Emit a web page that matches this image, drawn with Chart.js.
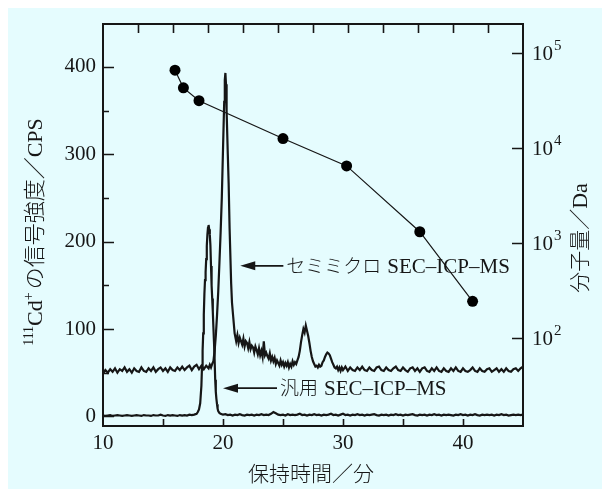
<!DOCTYPE html>
<html><head><meta charset="utf-8">
<script src="https://cdn.jsdelivr.net/npm/chart.js@4.4.1/dist/chart.umd.min.js"></script>
<style>html,body{margin:0;padding:0;background:#fff;}canvas{display:block;}</style>
</head><body>
<canvas id="c" width="602" height="492"></canvas>
<script>
// ---------- data ----------
const bottomTicks = [10, 20, 30, 40];
const bottomTickMarks = [10, 15, 20, 25, 30, 35, 40, 45];
const leftTicks = [0, 100, 200, 300, 400];
const leftTickMarks = [0, 50, 100, 150, 200, 250, 300, 350, 400];
const rightTicks = [100, 1000, 10000, 100000];
const topTickMarks = [0, 1, 2, 3, 4, 5, 6, 7, 8, 9, 10, 11, 12];

// molecular weight calibration (right log axis)
const mwTime = [16.0, 16.7, 18.0, 25.0, 30.3, 36.4, 40.8];
const mwValue = [66000, 43000, 31500, 12600, 6500, 1320, 245];

// semi-micro SEC-ICP-MS trace
const semiTime = [
10.0,10.2,10.4,10.6,10.8,11.0,11.2,11.4,11.6,11.8,
12.0,12.2,12.4,12.6,12.8,13.0,13.2,13.4,13.6,13.8,
14.0,14.2,14.4,14.6,14.8,15.0,15.2,15.4,15.6,15.8,
16.0,16.2,16.4,16.6,16.8,17.0,17.2,17.4,17.6,17.8,
18.0,18.2,18.4,18.6,18.8,18.9,19.0,19.1,19.2,19.3,
19.4,19.5,19.6,19.7,19.8,19.9,20.0,20.1,20.15,20.2,
20.25,20.3,20.4,20.47,20.55,20.68,20.75,20.85,20.97,21.1,
21.2,21.3,21.4,21.5,21.6,21.7,21.8,21.9,22.0,22.1,
22.2,22.3,22.4,22.5,22.6,22.7,22.8,22.9,23.0,23.1,
23.2,23.3,23.4,23.5,23.6,23.7,23.8,23.9,24.0,24.1,
24.2,24.3,24.4,24.5,24.6,24.7,24.8,24.9,25.0,25.1,
25.2,25.3,25.4,25.5,25.6,25.7,25.8,25.9,26.0,26.1,
26.2,26.3,26.4,26.5,26.6,26.7,26.8,26.9,27.0,27.1,
27.2,27.3,27.4,27.5,27.6,27.7,27.8,27.9,28.0,28.1,
28.2,28.3,28.4,28.5,28.6,28.7,28.8,28.9,29.0,29.1,
29.2,29.3,29.4,29.5,29.6,29.7,29.8,29.9,30.0,30.2,
30.4,30.6,30.8,31.0,31.2,31.4,31.6,31.8,32.0,32.2,
32.4,32.6,32.8,33.0,33.2,33.4,33.6,33.8,34.0,34.2,
34.4,34.6,34.8,35.0,35.2,35.4,35.6,35.8,36.0,36.2,
36.4,36.6,36.8,37.0,37.2,37.4,37.6,37.8,38.0,38.2,
38.4,38.6,38.8,39.0,39.2,39.4,39.6,39.8,40.0,40.2,
40.4,40.6,40.8,41.0,41.2,41.4,41.6,41.8,42.0,42.2,
42.4,42.6,42.8,43.0,43.2,43.4,43.6,43.8,44.0,44.2,
44.4,44.6,44.8,45.0
];
const semiSignal = [
49,53,50,54,51,55,50,54,52,56,
51,54,50,55,52,51,56,52,51,55,
52,56,51,54,56,52,55,51,56,53,
52,56,53,57,53,56,58,53,57,59,
54,58,54,58,55,59,56,60,63,75,
92,115,142,175,210,250,305,360,385,393,
380,350,300,267,215,152,130,114,95,86,
93,84,90,86,82,89,80,86,84,78,
85,77,81,79,73,80,76,71,78,70,
75,68,86,70,73,69,66,72,64,68,
63,67,60,64,61,58,64,59,62,57,
61,58,62,56,60,57,63,59,62,60,
64,68,75,85,93,100,96,104,98,92,
84,75,68,63,60,57,58,56,59,57,
58,62,64,68,71,73,72,70,66,62,
59,56,55,57,53,56,52,56,53,57,
52,56,53,52,56,53,57,53,52,56,
53,52,56,57,53,52,56,53,52,55,
57,53,52,56,53,51,55,56,52,55,
51,55,56,52,51,55,52,56,52,51,
55,52,51,55,52,56,52,51,55,52,
51,53,56,52,51,55,52,51,54,55,
51,53,55,51,54,51,55,52,51,54,
55,52,55,57
];

// conventional SEC-ICP-MS trace
const genTime = [
10.0,10.2,10.4,10.6,10.8,11.0,11.2,11.4,11.6,11.8,
12.0,12.2,12.4,12.6,12.8,13.0,13.2,13.4,13.6,13.8,
14.0,14.2,14.4,14.6,14.8,15.0,15.2,15.4,15.6,15.8,
16.0,16.2,16.4,16.6,16.8,17.0,17.2,17.4,
17.6,17.8,17.9,18.0,18.1,18.2,18.25,18.3,18.35,18.4,
18.45,18.5,18.55,18.6,18.65,18.7,18.75,18.8,18.85,18.9,
18.95,19.0,19.05,19.1,19.15,19.2,19.25,19.3,19.35,19.4,
19.45,19.5,19.55,19.6,19.7,19.8,19.9,20.0,
20.2,20.4,20.6,20.8,21.0,21.2,21.4,21.6,21.8,22.0,
22.2,22.4,22.6,22.8,23.0,23.2,23.4,23.6,23.8,24.0,
24.2,24.4,24.6,24.8,25.0,25.2,25.4,25.6,25.8,26.0,
26.2,26.4,26.6,26.8,27.0,27.2,27.4,27.6,27.8,28.0,
28.2,28.4,28.6,28.8,29.0,29.2,29.4,29.6,29.8,30.0,
30.2,30.4,30.6,30.8,31.0,31.2,31.4,31.6,31.8,32.0,
32.2,32.4,32.6,32.8,33.0,33.2,33.4,33.6,33.8,34.0,
34.2,34.4,34.6,34.8,35.0,35.2,35.4,35.6,35.8,36.0,
36.2,36.4,36.6,36.8,37.0,37.2,37.4,37.6,37.8,38.0,
38.2,38.4,38.6,38.8,39.0,39.2,39.4,39.6,39.8,40.0,
40.2,40.4,40.6,40.8,41.0,41.2,41.4,41.6,41.8,42.0,
42.2,42.4,42.6,42.8,43.0,43.2,43.4,43.6,43.8,44.0,
44.2,44.4,44.6,44.8,45.0
];
const genSignal = [
1,0.5,1,1.5,0.5,1,1.5,1,0.5,1,
1.5,1,0.5,1,1.5,1,0.5,1.5,1,1,
0.5,1.5,1,1,2,1,0.5,1.5,1,1.5,
1,0.5,1.5,1,1.5,1,2,1.5,
2,3,5,8,15,35,57,75,95,116,
140,156,165,180,195,208,216,219,214,208,
196,172,150,135,120,102,85,66,42,28,
20,14,9,6,4,3,2.5,2,
2.5,1.5,2,1,2,1.5,2.5,1.5,1,2,
1.5,2,1,2,1.5,2.5,1.5,2,1.5,3,
5,3.5,2,1.5,2,1,2.5,1.5,2,1.5,
2,3,1.5,2,1,2,1.5,2.5,1.5,2,
1,2,1.5,2,3,1.5,2,1,2,3,
1.5,2,1,2,1.5,2.5,1.5,2,1,2,
1.5,2,2.5,1.5,1,2,1.5,2,1,2,
1.5,2.5,1.5,2,1,2,1.5,2,2.5,1.5,
1,2,1.5,2,1,2,1.5,2.5,1.5,2,
1,2,1.5,2,1.5,1,2,1.5,2.5,1.5,
2,1,2,1.5,2.5,1.5,1,2,1.5,2,
1.5,2,1,2,1.5,2.5,1.5,2,1,1.5,
2,1.5,2,1.5,2
];

// ---------- styling ----------
const SERIF = '"Liberation Serif","DejaVu Serif",serif';
const CJK = '"Noto Sans CJK JP","Noto Sans CJK SC",sans-serif';
const INK = '#161616';

const annotations = [
  {tipX: 21.44, tailX: 25.03, y: 172.3, jp: 'セミミクロ', en: 'SEC–ICP–MS'},
  {tipX: 20.0, tailX: 24.5, y: 32.3, jp: '汎用', en: 'SEC–ICP–MS'}
];

function pts(t, v) {
  const n = Math.min(t.length, v.length), a = [];
  for (let i = 0; i < n; i++) a.push({x: t[i], y: v[i]});
  return a;
}
const asTicks = arr => arr.map(v => ({value: v}));

function drawRuns(ctx, runs, baseline) {
  let w = 0;
  runs.forEach(r => { ctx.font = (r.w || 'normal') + ' ' + r.s + 'px ' + r.f; r._w = ctx.measureText(r.t).width; w += r._w + (r.gap || 0); });
  let x = -w / 2;
  runs.forEach(r => {
    ctx.font = (r.w || 'normal') + ' ' + r.s + 'px ' + r.f;
    ctx.fillText(r.t, x, baseline + (r.dy || 0));
    x += r._w + (r.gap || 0);
  });
}

const deco = {
  id: 'deco',
  beforeDraw(chart) {
    const ctx = chart.ctx;
    ctx.save();
    ctx.fillStyle = '#ffffff'; ctx.fillRect(0, 0, chart.width, chart.height);
    ctx.fillStyle = '#e5fcfe'; ctx.fillRect(8, 8, chart.width - 8, chart.height - 11);
    ctx.restore();
  },
  afterDatasetsDraw(chart) {
    const ctx = chart.ctx, a = chart.chartArea, s = chart.scales;
    ctx.save();
    ctx.strokeStyle = INK; ctx.fillStyle = INK;
    ctx.lineWidth = 2;
    ctx.strokeRect(a.left, a.top, a.right - a.left, a.bottom - a.top);
    ctx.lineWidth = 1.6;
    ctx.beginPath();
    s.y.ticks.forEach(t => {
      const py = Math.round(s.y.getPixelForValue(t.value)) + 0.5;
      const len = leftTicks.includes(t.value) ? 11 : 6;
      ctx.moveTo(a.left, py); ctx.lineTo(a.left + len, py);
    });
    s.x.ticks.forEach(t => {
      if (t.value <= 10 || t.value >= 45) return;
      const px = Math.round(s.x.getPixelForValue(t.value)) + 0.5;
      ctx.moveTo(px, a.bottom); ctx.lineTo(px, a.bottom - 7);
    });
    s.xTop.ticks.forEach(t => {
      if (t.value <= 0 || t.value >= 12) return;
      const px = Math.round(s.xTop.getPixelForValue(t.value)) + 0.5;
      ctx.moveTo(px, a.top); ctx.lineTo(px, a.top + 9);
    });
    rightTicks.forEach(v => {
      const py = Math.round(s.y2.getPixelForValue(v)) + 0.5;
      ctx.moveTo(a.right, py); ctx.lineTo(a.right - 11, py);
    });
    ctx.stroke();

    ctx.textBaseline = 'alphabetic';
    ctx.textAlign = 'left';
    rightTicks.forEach(v => {
      const py = s.y2.getPixelForValue(v);
      const exp = String(Math.round(Math.log10(v)));
      ctx.font = '21px ' + SERIF;
      ctx.fillText('10', a.right + 9, py + 7);
      const w = ctx.measureText('10').width;
      ctx.font = '15px ' + SERIF;
      ctx.fillText(exp, a.right + 9 + w + 1, py - 3);
    });

    annotations.forEach(an => {
      const tip = s.x.getPixelForValue(an.tipX), tail = s.x.getPixelForValue(an.tailX);
      const py = s.y.getPixelForValue(an.y);
      ctx.lineWidth = 1.8;
      ctx.beginPath(); ctx.moveTo(tip + 10, py); ctx.lineTo(tail, py); ctx.stroke();
      ctx.beginPath(); ctx.moveTo(tip, py); ctx.lineTo(tip + 15, py - 4.5); ctx.lineTo(tip + 15, py + 4.5); ctx.closePath(); ctx.fill();
      ctx.font = '300 19px ' + CJK;
      ctx.fillText(an.jp, tail + 3, py + 7);
      const w = ctx.measureText(an.jp).width;
      ctx.font = '21px ' + SERIF;
      ctx.fillText(an.en, tail + 3 + w + 6, py + 7);
    });

    ctx.textAlign = 'left';
    ctx.save(); ctx.translate((a.left + a.right) / 2 - 2, 474);
    drawRuns(ctx, [{t: '保持時間／分', f: CJK, s: 21, w: '300'}], 7);
    ctx.restore();
    ctx.save(); ctx.translate(35, 232); ctx.rotate(-Math.PI / 2);
    drawRuns(ctx, [
      {t: '111', f: SERIF, s: 14, dy: -9},
      {t: 'Cd', f: SERIF, s: 22},
      {t: '+', f: SERIF, s: 14, dy: -9, gap: 3},
      {t: 'の信号強度／', f: CJK, s: 22, w: '300'},
      {t: 'CPS', f: SERIF, s: 22}
    ], 7);
    ctx.restore();
    ctx.save(); ctx.translate(580, 238); ctx.rotate(-Math.PI / 2);
    drawRuns(ctx, [
      {t: '分子量／', f: CJK, s: 21, w: '300'},
      {t: 'Da', f: SERIF, s: 22}
    ], 7);
    ctx.restore();
    ctx.restore();
  }
};

new Chart(document.getElementById('c'), {
  type: 'scatter',
  data: {
    datasets: [
      {label: 'semi', data: pts(semiTime, semiSignal), showLine: true, borderColor: INK, borderWidth: 2.2, pointRadius: 0, tension: 0, xAxisID: 'x', yAxisID: 'y'},
      {label: 'gen', data: pts(genTime, genSignal), showLine: true, borderColor: INK, borderWidth: 2.2, pointRadius: 0, tension: 0, xAxisID: 'x', yAxisID: 'y'},
      {label: 'mw', data: pts(mwTime, mwValue), showLine: true, borderColor: INK, borderWidth: 1.2, pointRadius: 5.5, pointBackgroundColor: '#000', pointBorderColor: '#000', pointBorderWidth: 0, xAxisID: 'x', yAxisID: 'y2'}
    ]
  },
  options: {
    responsive: false, animation: false, devicePixelRatio: 1,
    layout: {padding: {top: 24, left: 0, right: 0, bottom: 0}},
    plugins: {legend: {display: false}, tooltip: {enabled: false}},
    scales: {
      x: {
        type: 'linear', position: 'bottom', min: 10, max: 45,
        grid: {display: false, drawTicks: false}, border: {display: false},
        ticks: {autoSkip: false, maxRotation: 0, padding: 5, color: INK, font: {family: SERIF, size: 21},
          callback: v => bottomTicks.includes(v) ? String(v) : ''},
        afterBuildTicks: sc => { sc.ticks = asTicks(bottomTickMarks); },
        afterFit: sc => { sc.height = 66; }
      },
      xTop: {
        type: 'linear', position: 'top', min: 0, max: 12,
        grid: {display: false, drawTicks: false}, border: {display: false},
        ticks: {display: false},
        afterBuildTicks: sc => { sc.ticks = asTicks(topTickMarks); },
        afterFit: sc => { sc.height = 0; }
      },
      y: {
        type: 'linear', position: 'left', min: -11, max: 449,
        grid: {display: false, drawTicks: false}, border: {display: false},
        ticks: {autoSkip: false, padding: 7, color: INK, font: {family: SERIF, size: 21},
          callback: v => leftTicks.includes(v) ? String(v) : ''},
        afterBuildTicks: sc => { sc.ticks = asTicks(leftTickMarks); },
        afterFit: sc => { sc.width = 103; }
      },
      y2: {
        type: 'logarithmic', position: 'right', min: 11.97, max: 201800,
        grid: {display: false, drawTicks: false}, border: {display: false},
        ticks: {display: false},
        afterFit: sc => { sc.width = 79; }
      }
    }
  },
  plugins: [deco]
});
</script>
</body></html>
